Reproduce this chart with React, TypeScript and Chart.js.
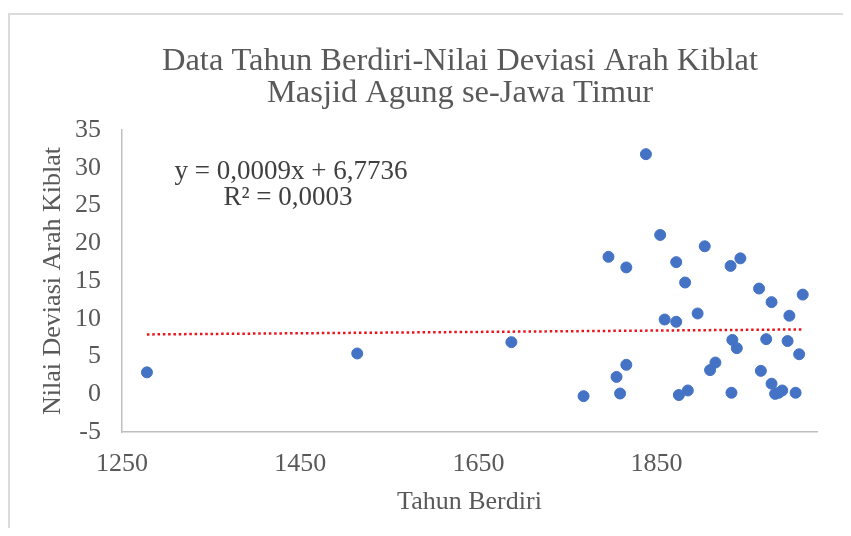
import React, { useEffect, useRef } from "react";
import { Chart, registerables } from "chart.js";

Chart.register(...registerables);

// Data
const years: number[] = [
  1278, 1514, 1687, 1768, 1796, 1805, 1809, 1816, 1816, 1838,
  1854, 1859, 1872, 1872, 1875, 1882, 1885, 1896, 1904, 1910,
  1916, 1933, 1934, 1935, 1940, 1944, 1965, 1967, 1973, 1979,
  1979, 1983, 1987, 1991, 1997, 1999, 2006, 2010, 2014,
];
const deviations: number[] = [
  2.9, 5.4, 6.9, -0.25, 18.2, 2.3, 0.1, 16.8, 3.9, 31.8,
  21.1, 9.9, 17.5, 9.6, -0.1, 14.8, 0.5, 10.7, 19.6, 3.2,
  4.2, 17.0, 0.2, 7.2, 6.1, 18.0, 14.0, 3.1, 7.3, 12.2,
  1.4, 0.05, 0.2, 0.5, 7.05, 10.4, 0.2, 5.3, 13.2,
];

const trendSlope = 0.0009;
const trendIntercept = 6.7736;
const eqLines: string[] = ["y = 0,0009x + 6,7736", "R² = 0,0003"];

const titleLines: string[] = [
  "Data Tahun Berdiri-Nilai Deviasi Arah Kiblat",
  "Masjid Agung se-Jawa Timur",
];
const xTitle = "Tahun Berdiri";
const yTitle = "Nilai Deviasi Arah Kiblat";
const xTicks: number[] = [1250, 1450, 1650, 1850];
const xMin = 1250;
const xMax = 2030;
const yMin = -5;
const yMax = 35;
const yStep = 5;

const FONT = '"Liberation Serif", "Times New Roman", serif';

const textPlugin = {
  id: "textLabels",
  afterDatasetsDraw(chart: any) {
    const { ctx, chartArea } = chart;
    ctx.save();
    // chart title
    ctx.font = `32.5px ${FONT}`;
    ctx.fillStyle = "#595959";
    ctx.textAlign = "center";
    ctx.textBaseline = "alphabetic";
    ctx.fillText(titleLines[0], 452, 61.5);
    ctx.fillText(titleLines[1], 452, 94);
    // trendline equation
    ctx.font = `27px ${FONT}`;
    ctx.fillStyle = "#404040";
    ctx.textBaseline = "middle";
    ctx.fillText(eqLines[0], chartArea.left + 169, chartArea.top + 42);
    ctx.fillText(eqLines[1], chartArea.left + 166, chartArea.top + 68);
    ctx.restore();
  },
};

export default function App() {
  const canvasRef = useRef<HTMLCanvasElement | null>(null);

  useEffect(() => {
    if (!canvasRef.current) return;
    const points = years.map((x, i) => ({ x, y: deviations[i] }));
    const tMin = Math.min(...years);
    const tMax = Math.max(...years);
    const trend = [
      { x: tMin, y: trendSlope * tMin + trendIntercept },
      { x: tMax, y: trendSlope * tMax + trendIntercept },
    ];

    const chart = new Chart(canvasRef.current, {
      type: "scatter",
      data: {
        datasets: [
          {
            type: "line",
            data: trend,
            borderColor: "#e8141c",
            borderWidth: 2.5,
            borderDash: [2.5, 2.8],
            pointRadius: 0,
            fill: false,
            order: 0,
          } as any,
          {
            data: points,
            backgroundColor: "#4472C4",
            borderColor: "#4472C4",
            borderWidth: 1,
            pointRadius: 5.5,
            order: 1,
          },
        ],
      },
      options: {
        animation: false,
        responsive: false,
        layout: { padding: { left: 0, right: 26, top: 122, bottom: 0 } },
        plugins: {
          legend: { display: false },
          tooltip: { enabled: false },
          title: { display: false },
        },
        scales: {
          x: {
            type: "linear",
            min: xMin,
            max: xMax,
            grid: { display: false, drawTicks: false },
            border: { display: true, color: "#bfbfbf", width: 1.5 },
            afterBuildTicks: (scale: any) => {
              scale.ticks = xTicks.map((v) => ({ value: v }));
            },
            afterFit: (scale: any) => {
              scale.height = 96;
            },
            ticks: {
              color: "#595959",
              font: { family: FONT, size: 26 },
              padding: 17,
              maxRotation: 0,
              autoSkip: false,
              callback: (v: any) => String(v),
            },
            title: {
              display: true,
              text: xTitle,
              color: "#595959",
              font: { family: FONT, size: 26 },
              padding: { top: 0, bottom: 10 },
            },
          },
          y: {
            type: "linear",
            min: yMin,
            max: yMax,
            grid: { display: false, drawTicks: false },
            border: { display: true, color: "#bfbfbf", width: 1.5 },
            afterFit: (scale: any) => {
              scale.width = 114;
            },
            ticks: {
              stepSize: yStep,
              color: "#595959",
              font: { family: FONT, size: 26 },
              padding: 21,
              callback: (v: any) => String(v),
            },
            title: {
              display: true,
              text: yTitle,
              color: "#595959",
              font: { family: FONT, size: 26 },
              padding: { top: 30, bottom: 0 },
            },
          },
        },
      },
      plugins: [textPlugin],
    });
    return () => chart.destroy();
  }, []);

  return (
    <div style={{ position: "relative", width: 835, height: 520, overflow: "hidden" }}>
      <div
        style={{
          position: "absolute",
          left: 0,
          top: 5,
          width: 900,
          height: 600,
          borderLeft: "2px solid #dcdcdc",
          borderTop: "2px solid #dcdcdc",
          boxSizing: "border-box",
        }}
      />
      <canvas
        ref={canvasRef}
        width={835}
        height={520}
        style={{ position: "absolute", left: 0, top: 0, width: 835, height: 520 }}
      />
    </div>
  );
}
